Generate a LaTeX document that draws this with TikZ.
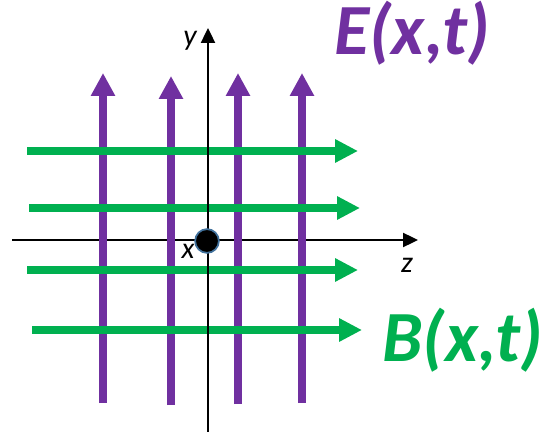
\documentclass[tikz,border=0pt]{standalone}
\usepackage{fontspec}
\setmainfont{Carlito}
\usetikzlibrary{arrows.meta}
\definecolor{fieldE}{HTML}{7030A0}
\definecolor{fieldB}{HTML}{00B050}
\definecolor{dotrim}{HTML}{41719C}

\begin{document}
\begin{tikzpicture}[
    x=0.02cm, y=-0.02cm,
    axis/.style={black, line width=1.1pt, -{Triangle[length=8.5pt, width=8pt]}},
    efield/.style={fieldE, line width=4.5pt, -{Triangle[length=13pt, width=13pt]}},
    bfield/.style={fieldB, line width=4.5pt, -{Triangle[length=13pt, width=12.5pt]}},
    axlabel/.style={font=\itshape\fontsize{17}{17}\selectfont, inner sep=0pt},
    fieldlabel/.style={font=\bfseries\itshape\fontsize{41}{41}\selectfont, anchor=base west, inner sep=0pt},
]
\useasboundingbox (0,0) rectangle (544,432);

% Axes
\coordinate (zl) at (12,240);
\coordinate (zr) at (418,240);
\coordinate (yb) at (208,432);
\coordinate (yt) at (208,28);
\draw[axis] (zl) -- (zr);

% Electric field
\foreach \xe/\ylo/\yhi [count=\i] in {103/403/73, 171/405/76, 238/404/73, 302/403/73} {
    \coordinate (eb\i) at (\xe,\ylo);
    \coordinate (et\i) at (\xe,\yhi);
    \draw[efield] (eb\i) -- (et\i);
}

% Magnetic field
\foreach \yf/\xlo/\xhi [count=\i] in {151/27/358, 208/29/360, 270/27/358, 330/32/362} {
    \coordinate (bl\i) at (\xlo,\yf);
    \coordinate (br\i) at (\xhi,\yf);
    \draw[bfield] (bl\i) -- (br\i);
}

\draw[axis] (yb) -- (yt);

% Origin
\node[circle, fill=black, draw=dotrim, line width=1pt, minimum size=13.5pt, inner sep=0pt] (origin) at (207,241) {};

% Labels
\node[axlabel] (ylab) at (190,41) {y};
\node[axlabel] (xlab) at (188,251) {x};
\node[axlabel] (zlab) at (407,265) {z};
\node[fieldlabel, fieldE] (elab) at (334,55) {E(x,t)};
\node[fieldlabel, fieldB] (blab) at (382,361) {B(x,t)};
\end{tikzpicture}
\end{document}
